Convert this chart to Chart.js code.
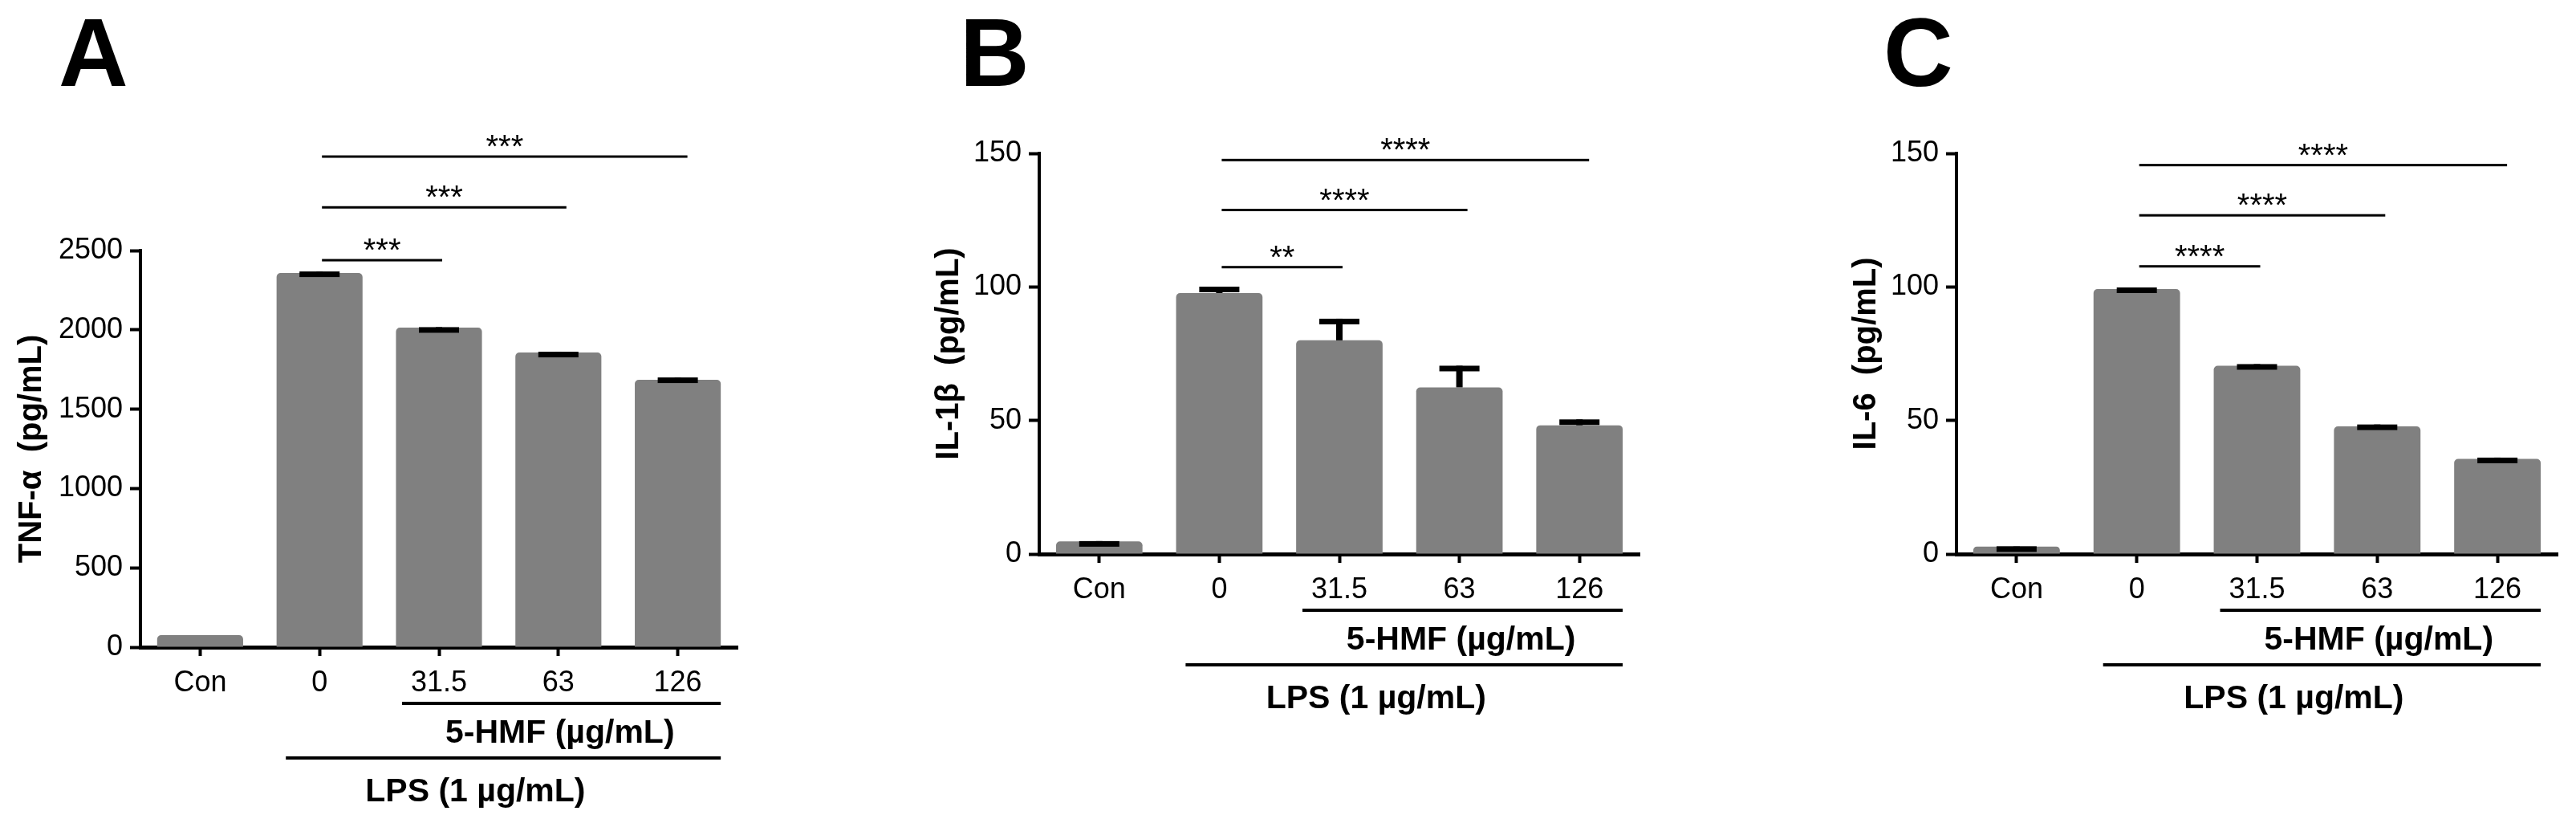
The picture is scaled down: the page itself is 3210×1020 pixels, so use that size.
<!DOCTYPE html>
<html>
<head>
<meta charset="utf-8">
<script src="https://cdn.jsdelivr.net/npm/chart.js@4.4.1/dist/chart.umd.min.js"></script>
<style>
  body { margin: 0; background: #fff; width: 3210px; height: 1020px; overflow: hidden; position: relative; }
  canvas { position: absolute; top: 0; }
</style>
</head>
<body>
<canvas id="chartA" width="1050" height="1020" style="left:0px"></canvas>
<canvas id="chartB" width="1100" height="1020" style="left:1050px"></canvas>
<canvas id="chartC" width="1010" height="1020" style="left:2200px"></canvas>
<script>
const categories = ['Con', '0', '31.5', '63', '126'];

// mean and error (upper half only, as drawn) per group
const tnfMean = [76, 2358, 2014, 1857, 1685];
const tnfErr = [0, 10, 3, 5, 15];
const il1bMean = [4.7, 97.7, 80.0, 62.4, 48.2];
const il1bErr = [0.15, 2.4, 8.1, 8.1, 2.2];
const il6Mean = [2.8, 99.2, 70.5, 47.8, 35.6];
const il6Err = [0.1, 0.6, 0.6, 0.7, 0.5];

// y axis: [min, max, step]
const tnfAxis = [0, 2500, 500];
const il1bAxis = [0, 150, 50];
const il6Axis = [0, 150, 50];

// significance brackets, all from group "0" (index 1) to the index in sigTo
const sigFrom = 1;
const sigTo = [2, 3, 4];
const tnfSigY = [2439, 2772, 3092];
const tnfSigText = ['***', '***', '***'];
const il1bSigY = [107.4, 128.8, 147.5];
const il1bSigText = ['**', '****', '****'];
const il6SigY = [107.7, 126.8, 145.6];
const il6SigText = ['****', '****', '****'];

const hmfLabel = '5-HMF (µg/mL)';
const lpsLabel = 'LPS (1 µg/mL)';

const FONT = '"Liberation Sans", Arial, sans-serif';
Chart.defaults.font.family = FONT;
Chart.defaults.color = '#000';

// error bars, brackets, group labels and panel letter
const panelPlugin = {
  id: 'panel',
  afterDraw(chart) {
    const { ctx, chartArea } = chart;
    const x = chart.scales.x, y = chart.scales.y;
    const o = chart.options.plugins.panel;
    const ds = chart.data.datasets[0];
    const meta = chart.getDatasetMeta(0);
    ctx.save();
    ctx.fillStyle = '#000';

    meta.data.forEach((bar, i) => {
      const e = ds.errors[i];
      if (!e) return;
      const yTop = y.getPixelForValue(ds.data[i] + e);
      const yBar = y.getPixelForValue(ds.data[i]);
      ctx.fillRect(bar.x - 4, yTop, 8, Math.max(yBar - yTop, 0));
      ctx.fillRect(bar.x - 25, yTop, 50, 7);
    });

    const x0 = x.getPixelForValue(sigFrom) + 3;
    const extra = [4, 10, 12];
    ctx.font = '40px ' + FONT;
    ctx.textAlign = 'center';
    ctx.textBaseline = 'alphabetic';
    o.sigY.forEach((v, k) => {
      const yy = y.getPixelForValue(v);
      const x1 = x.getPixelForValue(sigTo[k]) + extra[k];
      ctx.fillRect(x0, yy - 1.5, x1 - x0, 3);
      ctx.fillText(o.sigText[k], (x0 + x1) / 2, yy + 1);
    });

    const half = meta.data[4].width / 2;
    const lineEnd = x.getPixelForValue(4) + half;
    const hmfY = chartArea.bottom + 70;
    const lpsY = chartArea.bottom + 138;
    const hmfStart = x.getPixelForValue(2) - 46;
    const lpsStart = x.getPixelForValue(1) - 42;
    ctx.fillRect(hmfStart, hmfY - 2, lineEnd - hmfStart, 4);
    ctx.fillRect(lpsStart, lpsY - 2, lineEnd - lpsStart, 4);
    ctx.font = 'bold 41px ' + FONT;
    ctx.fillText(hmfLabel, x.getPixelForValue(3) + 2, hmfY + 49);
    ctx.fillText(lpsLabel, (x.getPixelForValue(1) + x.getPixelForValue(4)) / 2 - 29, lpsY + 54);

    ctx.font = 'bold 120px ' + FONT;
    ctx.textAlign = 'left';
    ctx.fillText(o.letter, o.letterX, 107);
    ctx.restore();
  }
};

function makeChart(id, means, errs, axis, title, sigY, sigText, letter, letterX, pad, yWidth) {
  return new Chart(document.getElementById(id), {
    type: 'bar',
    data: {
      labels: categories,
      datasets: [{
        data: means,
        errors: errs,
        backgroundColor: '#808080',
        borderWidth: 0,
        borderRadius: 5,
        barPercentage: 0.72,
        categoryPercentage: 1
      }]
    },
    options: {
      responsive: false,
      animation: false,
      layout: { padding: pad },
      plugins: {
        legend: { display: false },
        tooltip: { enabled: false },
        panel: { sigY, sigText, letter, letterX }
      },
      scales: {
        x: {
          z: 1,
          offset: true,
          grid: { offset: false, drawOnChartArea: false, drawTicks: true, tickLength: 11, tickWidth: 4, tickColor: '#000' },
          border: { display: true, color: '#000', width: 5 },
          ticks: { color: '#000', font: { size: 36 }, padding: 12, maxRotation: 0, autoSkip: false },
          afterFit(s) { s.height = 60; }
        },
        y: {
          z: 1,
          min: axis[0],
          max: axis[1],
          grid: { drawOnChartArea: false, drawTicks: true, tickLength: 13, tickWidth: 4, tickColor: '#000' },
          border: { display: true, color: '#000', width: 4 },
          ticks: { stepSize: axis[2], color: '#000', font: { size: 36 }, padding: 9, callback: v => String(v) },
          title: { display: true, text: title, color: '#000', font: { size: 40, weight: 'bold' }, padding: { top: 16, bottom: 0 } },
          afterFit(s) { s.width = yWidth; }
        }
      }
    },
    plugins: [panelPlugin]
  });
}

makeChart('chartA', tnfMean, tnfErr, tnfAxis, 'TNF-α  (pg/mL)', tnfSigY, tnfSigText, 'A', 73,
  { left: 0, top: 312, right: 131, bottom: 154 }, 175);
makeChart('chartB', il1bMean, il1bErr, il1bAxis, 'IL-1β  (pg/mL)', il1bSigY, il1bSigText, 'B', 146,
  { left: 93, top: 191, right: 107, bottom: 270 }, 152);
makeChart('chartC', il6Mean, il6Err, il6Axis, 'IL-6  (pg/mL)', il6SigY, il6SigText, 'C', 147,
  { left: 86, top: 191, right: 23, bottom: 270 }, 152);
</script>
</body>
</html>
